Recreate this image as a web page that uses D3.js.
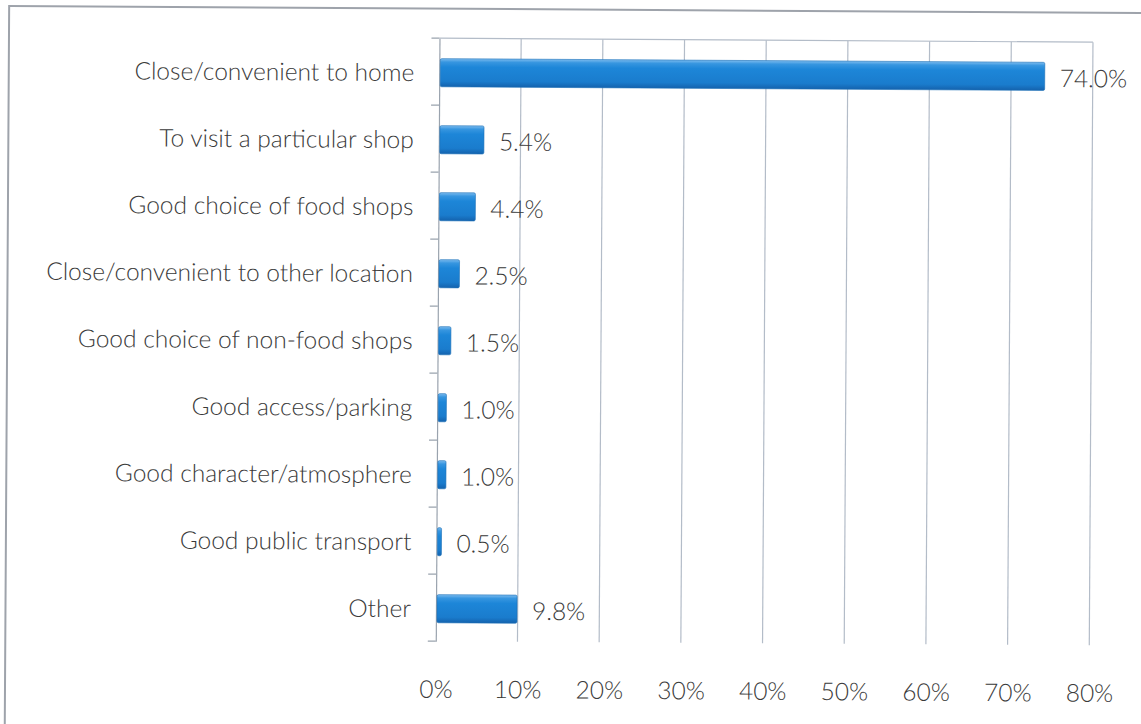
<!DOCTYPE html>
<html>
<head>
<meta charset="utf-8">
<script src="https://cdn.jsdelivr.net/npm/d3@7/dist/d3.min.js"></script>
<style>
  html, body { margin: 0; padding: 0; background: #fff; }
  svg { display: block; }
  text { font-family: Lato, "Open Sans", sans-serif; font-weight: 300; fill: #3a3a3a; }
</style>
</head>
<body>
<svg id="chart" width="1141" height="724"></svg>
<script>
// Reasons for choosing the centre (share of respondents)
const categories = [
  "Close/convenient to home",
  "To visit a particular shop",
  "Good choice of food shops",
  "Close/convenient to other location",
  "Good choice of non-food shops",
  "Good access/parking",
  "Good character/atmosphere",
  "Good public transport",
  "Other"
];
const values = [74.0, 5.4, 4.4, 2.5, 1.5, 1.0, 1.0, 0.5, 9.8];
const tickValues = [0, 10, 20, 30, 40, 50, 60, 70, 80];
const tickLabels = ["0%", "10%", "20%", "30%", "40%", "50%", "60%", "70%", "80%"];

const W = 1141, H = 724;
const plot = { left: 437.5, right: 1091, top: 39, bottom: 642 };
const fontSize = "24.5px";

const svg = d3.select("#chart");

// Bevelled blue fill for the bars
const defs = svg.append("defs");
const grad = defs.append("linearGradient")
  .attr("id", "barFill").attr("x1", 0).attr("y1", 0).attr("x2", 0).attr("y2", 1);
[["0%", "#7dbcef"], ["12%", "#3796e0"], ["30%", "#1d86d8"], ["80%", "#1a7ccd"], ["100%", "#1462ad"]]
  .forEach(([o, c]) => grad.append("stop").attr("offset", o).attr("stop-color", c));

// Whole page is very slightly skewed
const g = svg.append("g").attr("transform", `rotate(0.35 ${W / 2} ${H / 2})`);

// Outer frame
g.append("rect")
  .attr("x", 7).attr("y", 9.5)
  .attr("width", 1160).attr("height", 740)
  .attr("fill", "none").attr("stroke", "#9ea3ab").attr("stroke-width", 2);

const x = d3.scaleLinear().domain([0, 80]).range([plot.left, plot.right]);
const y = d3.scaleBand().domain(categories).range([plot.top, plot.bottom]).padding(0);
const barH = y.bandwidth() * 0.42;

// Vertical gridlines
g.append("g").selectAll("line")
  .data(tickValues.slice(1))
  .join("line")
  .attr("x1", d => x(d)).attr("x2", d => x(d))
  .attr("y1", plot.top).attr("y2", plot.bottom)
  .attr("stroke", "#b3bcc8").attr("stroke-width", 1.2);

// Top border of plot area
g.append("line")
  .attr("x1", plot.left).attr("x2", plot.right)
  .attr("y1", plot.top).attr("y2", plot.top)
  .attr("stroke", "#b3bcc8").attr("stroke-width", 1.2);

// Category axis
const yAxis = d3.axisLeft(y).tickSize(0).tickFormat("");
const ya = g.append("g").attr("transform", `translate(${plot.left},0)`).call(yAxis);
ya.select(".domain").attr("stroke", "#9aa3ae").attr("stroke-width", 1.2);
// tick marks sit on band boundaries
g.append("g").selectAll("line")
  .data(d3.range(categories.length + 1))
  .join("line")
  .attr("x1", plot.left - 8).attr("x2", plot.left)
  .attr("y1", i => plot.top + i * y.step()).attr("y2", i => plot.top + i * y.step())
  .attr("stroke", "#9aa3ae").attr("stroke-width", 1.2);

// Category labels
g.append("g").selectAll("text")
  .data(categories)
  .join("text")
  .attr("x", plot.left - 25)
  .attr("y", d => y(d) + y.bandwidth() / 2 + 1)
  .attr("dy", "0.35em")
  .attr("text-anchor", "end")
  .style("font-size", fontSize)
  .text(d => d);

// Bars
const data = categories.map((c, i) => ({ c, v: values[i] }));
g.append("g").selectAll("rect")
  .data(data)
  .join("rect")
  .attr("x", x(0) + 1)
  .attr("y", d => y(d.c) + (y.bandwidth() - barH) / 2 + 1)
  .attr("width", d => x(d.v) - x(0))
  .attr("height", barH)
  .attr("rx", 1.5)
  .attr("fill", "url(#barFill)")
  .attr("stroke", "#1a6fb8").attr("stroke-width", 0.6);

// Value labels
g.append("g").selectAll("text")
  .data(data)
  .join("text")
  .attr("x", d => x(d.v) + 16)
  .attr("y", d => y(d.c) + y.bandwidth() / 2 + 3)
  .attr("dy", "0.35em")
  .style("font-size", fontSize)
  .text(d => d.v.toFixed(1) + "%");

// Value axis labels
const xAxis = d3.axisBottom(x).tickValues(tickValues).tickSize(0)
  .tickFormat((d, i) => tickLabels[i]);
const xa = g.append("g").attr("transform", `translate(0,${plot.bottom})`).call(xAxis);
xa.select(".domain").remove();
xa.selectAll("text")
  .attr("y", 48).attr("dy", "0.35em")
  .attr("fill", "#3a3a3a")
  .style("font-size", fontSize)
  .style("font-family", "Lato, 'Open Sans', sans-serif")
  .style("font-weight", 300);
</script>
</body>
</html>
